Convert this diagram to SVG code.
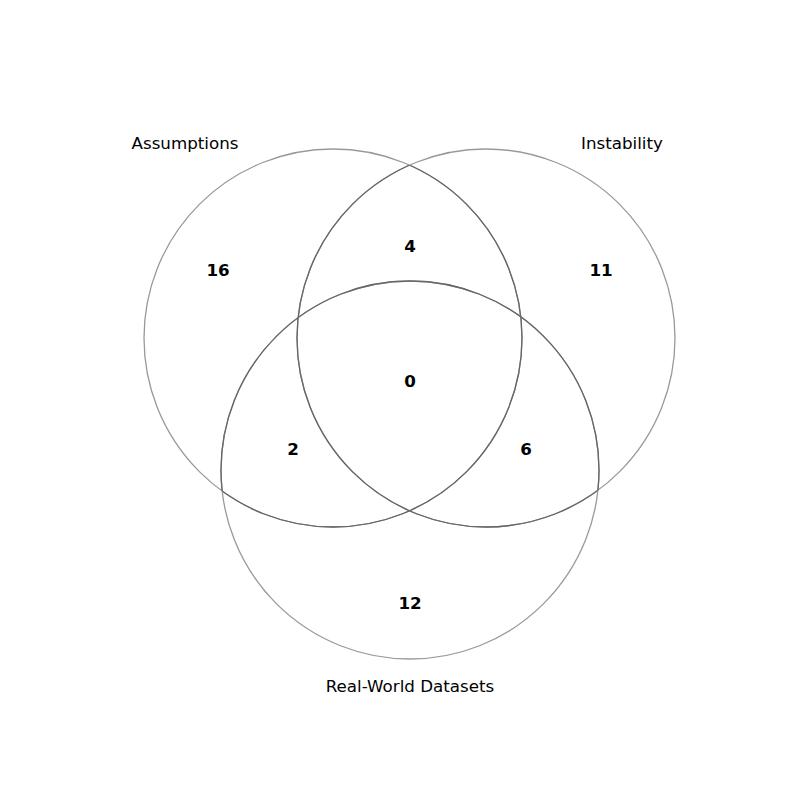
<svg xmlns="http://www.w3.org/2000/svg" width="800" height="800" viewBox="0 0 800 800">
<style>
.outer{fill:none;stroke:#999999;stroke-width:1.3}
.inner{fill:none;stroke:#666666;stroke-width:1.3}
.lbl{font-family:"DejaVu Sans",sans-serif;font-size:16.7px;fill:#000;text-anchor:middle}
.num{font-family:"DejaVu Sans",sans-serif;font-size:16.7px;font-weight:bold;fill:#000;text-anchor:middle}
</style>
<defs>
<clipPath id="inA"><circle cx="486" cy="338" r="189"/><circle cx="410" cy="470" r="189"/></clipPath>
<clipPath id="inB"><circle cx="333" cy="338" r="189"/><circle cx="410" cy="470" r="189"/></clipPath>
<clipPath id="inC"><circle cx="333" cy="338" r="189"/><circle cx="486" cy="338" r="189"/></clipPath>
</defs>
<rect width="800" height="800" fill="#ffffff"/>
<g id="connectors"></g>
<g id="setA">
<circle class="outer" cx="333" cy="338" r="189"/>
<circle class="inner" cx="333" cy="338" r="189" clip-path="url(#inA)"/>
<text class="lbl" x="185" y="149">Assumptions</text>
</g>
<g id="setB">
<circle class="outer" cx="486" cy="338" r="189"/>
<circle class="inner" cx="486" cy="338" r="189" clip-path="url(#inB)"/>
<text class="lbl" x="622" y="149">Instability</text>
</g>
<g id="setC">
<circle class="outer" cx="410" cy="470" r="189"/>
<circle class="inner" cx="410" cy="470" r="189" clip-path="url(#inC)"/>
<text class="lbl" x="410" y="692">Real-World Datasets</text>
</g>
<g id="counts">
<text class="num" x="218" y="276">16</text>
<text class="num" x="410" y="252">4</text>
<text class="num" x="601" y="276">11</text>
<text class="num" x="410" y="387">0</text>
<text class="num" x="293" y="455">2</text>
<text class="num" x="526" y="455">6</text>
<text class="num" x="410" y="609">12</text>
</g>
</svg>
